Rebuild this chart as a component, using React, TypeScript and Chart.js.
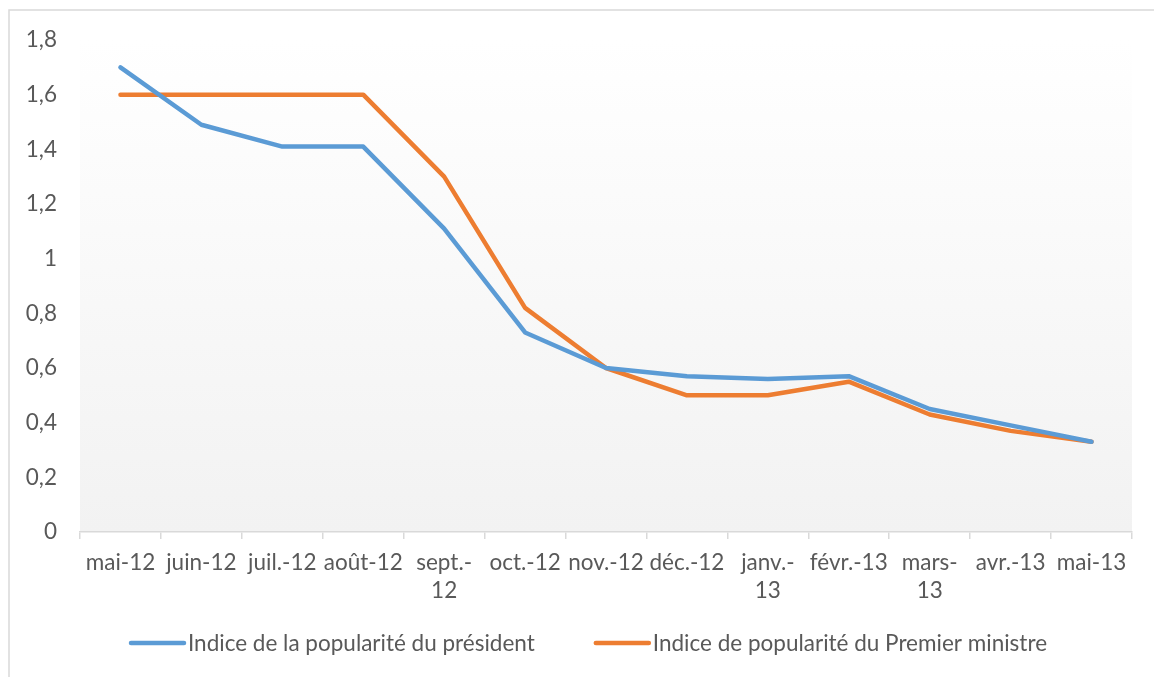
import React, { useEffect, useRef } from "react";
import { Chart, registerables } from "chart.js";

Chart.register(...registerables);

const categories: (string | string[])[] = [
  "mai-12", "juin-12", "juil.-12", "août-12", ["sept.-", "12"], "oct.-12", "nov.-12",
  "déc.-12", ["janv.-", "13"], "févr.-13", ["mars-", "13"], "avr.-13", "mai-13",
];
const presidentValues = [1.70, 1.49, 1.41, 1.41, 1.11, 0.73, 0.60, 0.57, 0.56, 0.57, 0.45, 0.39, 0.33];
const primeMinisterValues = [1.60, 1.60, 1.60, 1.60, 1.30, 0.82, 0.60, 0.50, 0.50, 0.55, 0.43, 0.37, 0.33];
const seriesNames = [
  "Indice de la popularité du président",
  "Indice de popularité du Premier ministre",
];
const seriesColors = ["#5B9BD5", "#ED7D31"];
const yMin = 0;
const yMax = 1.8;
const yStep = 0.2;

const FONT = "Lato";
const FONT_SIZE = 22.5;
const TEXT = "#595959";
const FRAME = "#d9d9d9";

const backgroundPlugin = {
  id: "bgFrame",
  beforeDraw(chart: any) {
    const { ctx, chartArea } = chart;
    ctx.save();
    ctx.fillStyle = "#ffffff";
    ctx.fillRect(0, 0, chart.width, chart.height);
    const g = ctx.createLinearGradient(0, chartArea.top, 0, chartArea.bottom);
    g.addColorStop(0, "#ffffff");
    g.addColorStop(1, "#f2f2f2");
    ctx.fillStyle = g;
    ctx.fillRect(chartArea.left, chartArea.top, chartArea.right - chartArea.left, chartArea.bottom - chartArea.top);
    ctx.strokeStyle = FRAME;
    ctx.lineWidth = 1.5;
    ctx.beginPath();
    ctx.moveTo(9, chart.height);
    ctx.lineTo(9, 10);
    ctx.lineTo(chart.width, 10);
    ctx.stroke();
    ctx.restore();
  },
};

const legendPlugin = {
  id: "customLegend",
  afterDraw(chart: any) {
    const { ctx } = chart;
    const lineW = 53;
    const gap = 4;
    const itemGap = 61;
    const y = 643;
    const centerX = 589;
    ctx.save();
    ctx.font = `${FONT_SIZE}px ${FONT}`;
    const items = chart.data.datasets.map((ds: any) => ({
      label: ds.label,
      color: ds.borderColor,
      w: ctx.measureText(ds.label).width,
    }));
    let total = 0;
    items.forEach((it: any, i: number) => {
      total += lineW + gap + it.w + (i > 0 ? itemGap : 0);
    });
    let x = centerX - total / 2;
    items.forEach((it: any) => {
      ctx.strokeStyle = it.color;
      ctx.lineWidth = 4.5;
      ctx.lineCap = "round";
      ctx.beginPath();
      ctx.moveTo(x, y);
      ctx.lineTo(x + lineW, y);
      ctx.stroke();
      ctx.fillStyle = TEXT;
      ctx.textBaseline = "middle";
      ctx.textAlign = "left";
      ctx.fillText(it.label, x + lineW + gap, y + 1);
      x += lineW + gap + it.w + itemGap;
    });
    ctx.restore();
  },
};

export default function App() {
  const canvasRef = useRef<HTMLCanvasElement | null>(null);

  useEffect(() => {
    if (!canvasRef.current) return;
    const chart = new Chart(canvasRef.current, {
      type: "line",
      data: {
        labels: categories as any,
        datasets: [
          {
            label: seriesNames[0],
            data: presidentValues,
            borderColor: seriesColors[0],
            backgroundColor: seriesColors[0],
            borderWidth: 4.5,
            pointRadius: 0,
            tension: 0,
            borderCapStyle: "round",
            borderJoinStyle: "round",
          },
          {
            label: seriesNames[1],
            data: primeMinisterValues,
            borderColor: seriesColors[1],
            backgroundColor: seriesColors[1],
            borderWidth: 4.5,
            pointRadius: 0,
            tension: 0,
            borderCapStyle: "round",
            borderJoinStyle: "round",
          },
        ],
      },
      options: {
        responsive: false,
        animation: false,
        devicePixelRatio: 1,
        layout: { padding: { left: 0, right: 22, top: 40, bottom: 45 } },
        plugins: {
          legend: { display: false },
          tooltip: { enabled: false },
          title: { display: false },
        },
        scales: {
          x: {
            type: "category",
            offset: true,
            grid: {
              display: true,
              offset: true,
              drawOnChartArea: false,
              drawTicks: true,
              tickLength: 7,
              color: FRAME,
              lineWidth: 1.5,
            },
            border: { display: true, color: FRAME, width: 1.5 },
            ticks: {
              autoSkip: false,
              maxRotation: 0,
              minRotation: 0,
              padding: 10,
              color: TEXT,
              font: { family: FONT, size: FONT_SIZE, lineHeight: 1.25 },
            },
            afterFit(scale: any) {
              scale.height = 100;
            },
          },
          y: {
            min: yMin,
            max: yMax,
            grid: { display: false, drawTicks: false },
            border: { display: false },
            ticks: {
              stepSize: yStep,
              padding: 23,
              color: TEXT,
              font: { family: FONT, size: FONT_SIZE },
              callback: (v: any) => Number(Number(v).toFixed(1)).toString().replace(".", ","),
            },
            afterFit(scale: any) {
              scale.width = 80;
            },
          },
        },
      },
      plugins: [backgroundPlugin, legendPlugin],
    });
    return () => chart.destroy();
  }, []);

  return (
    <div style={{ position: "absolute", left: 0, top: 0, width: 1154, height: 677 }}>
      <canvas ref={canvasRef} width={1154} height={677} style={{ display: "block" }} />
    </div>
  );
}
